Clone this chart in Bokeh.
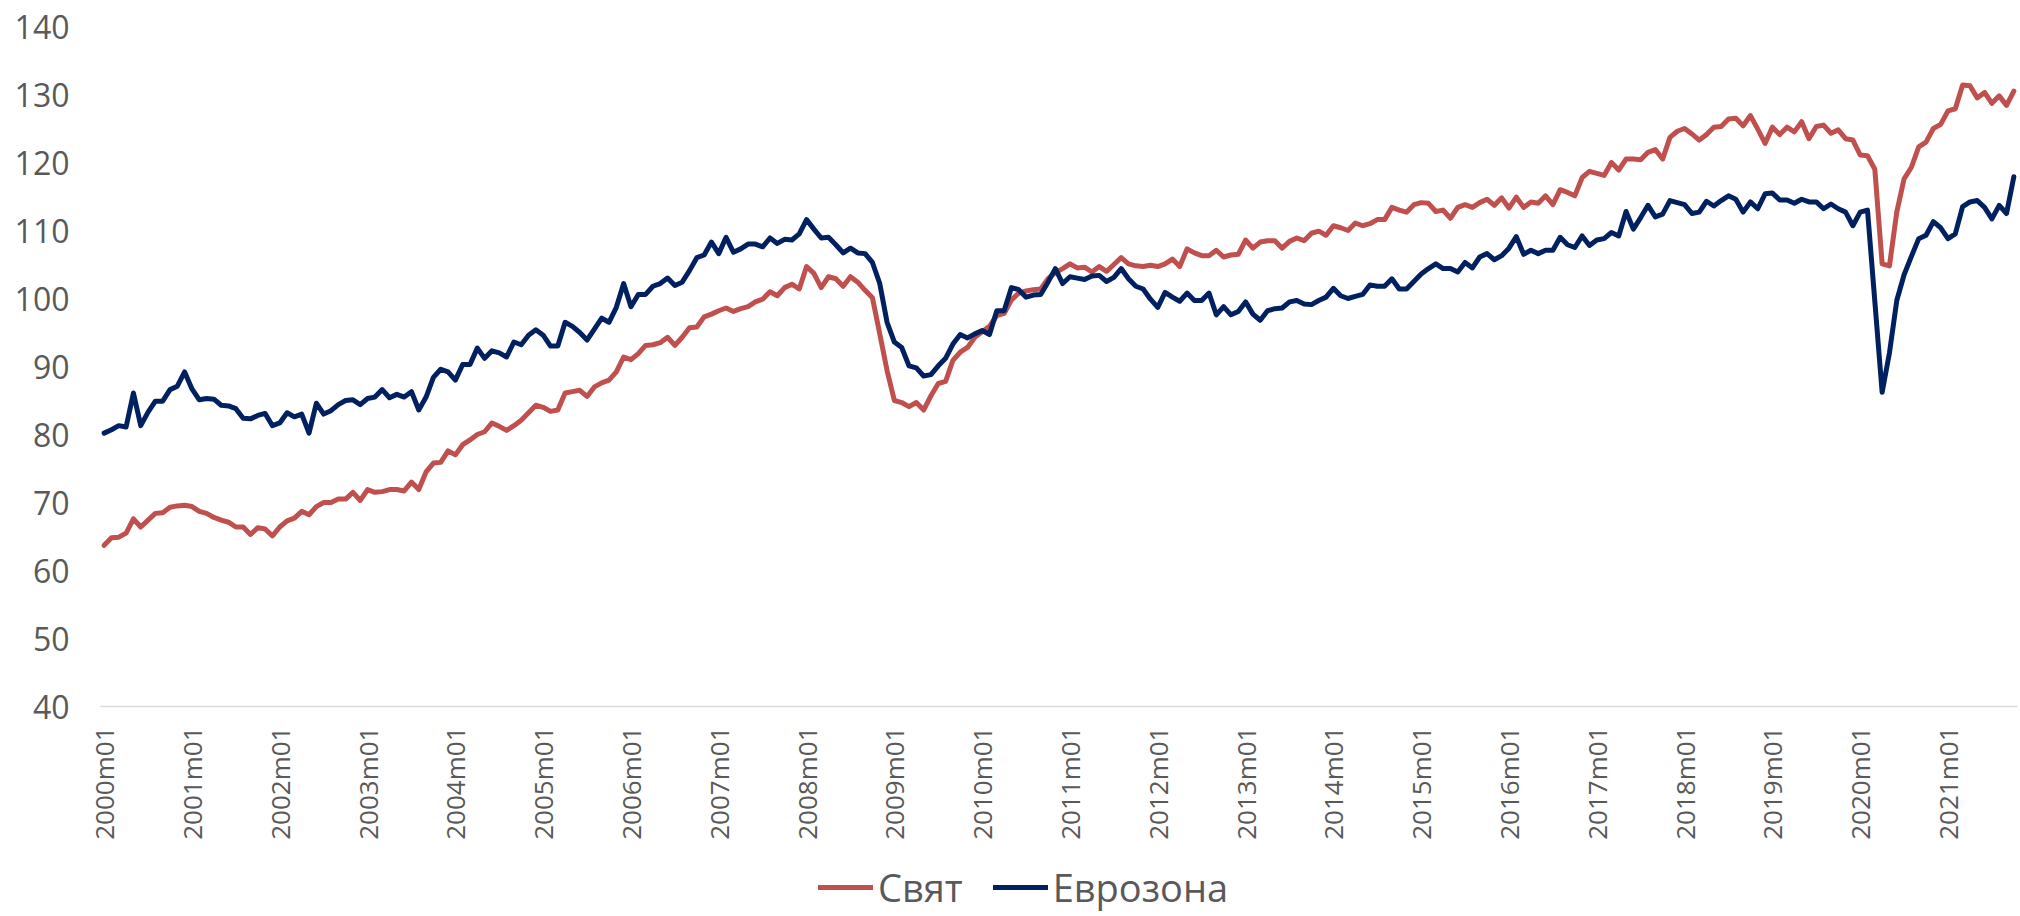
from bokeh.plotting import figure
from bokeh.models import Range1d, FixedTicker, Legend, LegendItem
from bokeh.layouts import column
from bokeh.embed import file_html
from bokeh.resources import INLINE
import math

# ---- data ----
tick_labels = ["2000m01", "2001m01", "2002m01", "2003m01", "2004m01", "2005m01",
               "2006m01", "2007m01", "2008m01", "2009m01", "2010m01", "2011m01",
               "2012m01", "2013m01", "2014m01", "2015m01", "2016m01", "2017m01",
               "2018m01", "2019m01", "2020m01", "2021m01"]

world = [
    63.7, 64.8, 64.9, 65.5, 67.6, 66.4, 67.4, 68.4, 68.5, 69.3, 69.5, 69.6,
    69.4, 68.7, 68.4, 67.8, 67.4, 67.1, 66.4, 66.4, 65.3, 66.3, 66.1, 65.1,
    66.4, 67.3, 67.7, 68.7, 68.2, 69.4, 70.0, 70.0, 70.5, 70.5, 71.5, 70.3,
    71.9, 71.5, 71.6, 71.9, 71.9, 71.7, 73.0, 71.9, 74.5, 75.8, 75.9, 77.6,
    77.0, 78.5, 79.2, 80.0, 80.4, 81.7, 81.2, 80.6, 81.3, 82.1, 83.2, 84.3,
    84.0, 83.4, 83.6, 86.1, 86.3, 86.5, 85.6, 87.0, 87.6, 88.0, 89.2, 91.4,
    91.0, 91.9, 93.1, 93.2, 93.5, 94.3, 93.1, 94.3, 95.7, 95.8, 97.3, 97.7,
    98.2, 98.6, 98.1, 98.5, 98.8, 99.5, 99.9, 101.0, 100.4, 101.6, 102.1, 101.4,
    104.7, 103.7, 101.6, 103.2, 102.9, 101.8, 103.2, 102.4, 101.2, 100.1, 94.8, 89.4,
    85.0, 84.7, 84.1, 84.7, 83.6, 85.7, 87.5, 87.8, 90.9, 92.1, 92.8, 94.3,
    95.1, 95.9, 97.5, 97.8, 99.8, 100.8, 101.1, 101.3, 101.4, 102.9, 103.8, 104.4,
    105.1, 104.5, 104.6, 103.9, 104.7, 104.0, 105.0, 106.0, 105.1, 104.8, 104.7, 104.9,
    104.7, 105.1, 105.8, 104.7, 107.3, 106.7, 106.3, 106.3, 107.1, 106.1, 106.4, 106.5,
    108.6, 107.4, 108.3, 108.5, 108.5, 107.4, 108.4, 108.9, 108.5, 109.6, 109.9, 109.3,
    110.7, 110.4, 110.0, 111.1, 110.7, 111.0, 111.6, 111.6, 113.4, 113.0, 112.7, 113.8,
    114.1, 114.0, 112.8, 113.0, 111.8, 113.4, 113.8, 113.4, 114.1, 114.6, 113.7, 114.8,
    113.3, 114.9, 113.4, 114.2, 114.0, 115.1, 113.8, 116.0, 115.6, 115.1, 117.8, 118.7,
    118.4, 118.1, 120.0, 118.9, 120.5, 120.5, 120.4, 121.5, 121.9, 120.5, 123.7, 124.6,
    125.0, 124.2, 123.3, 124.1, 125.2, 125.3, 126.4, 126.5, 125.4, 126.9, 124.9, 122.8,
    125.2, 124.1, 125.2, 124.5, 126.0, 123.5, 125.3, 125.5, 124.3, 124.8, 123.5, 123.3,
    121.1, 121.0, 119.0, 105.1, 104.8, 112.7, 117.6, 119.3, 122.3, 123.0, 125.0, 125.6,
    127.6, 127.9, 131.4, 131.3, 129.5, 130.3, 128.7, 129.8, 128.4, 130.5,
]

eurozone = [
    80.2, 80.7, 81.3, 81.1, 86.1, 81.3, 83.3, 84.9, 84.9, 86.6, 87.1, 89.2,
    86.7, 85.1, 85.3, 85.2, 84.3, 84.2, 83.8, 82.4, 82.3, 82.8, 83.1, 81.3,
    81.7, 83.2, 82.6, 83.0, 80.2, 84.6, 83.0, 83.5, 84.4, 85.0, 85.1, 84.4,
    85.3, 85.5, 86.6, 85.4, 85.9, 85.5, 86.3, 83.6, 85.5, 88.4, 89.6, 89.2,
    88.0, 90.3, 90.3, 92.7, 91.2, 92.3, 92.0, 91.4, 93.6, 93.2, 94.6, 95.4,
    94.6, 93.0, 93.0, 96.5, 95.9, 95.0, 93.9, 95.5, 97.1, 96.5, 98.7, 102.2,
    98.8, 100.6, 100.6, 101.8, 102.2, 103.0, 101.9, 102.4, 104.1, 106.0, 106.4, 108.3,
    106.6, 109.0, 106.8, 107.3, 108.0, 108.0, 107.6, 108.9, 108.1, 108.7, 108.6, 109.5,
    111.6, 110.2, 108.9, 109.0, 107.9, 106.7, 107.4, 106.7, 106.6, 105.3, 102.2, 96.5,
    93.6, 92.8, 90.1, 89.8, 88.6, 88.8, 90.1, 91.2, 93.3, 94.7, 94.2, 94.8,
    95.3, 94.7, 98.2, 98.2, 101.6, 101.3, 100.2, 100.5, 100.6, 102.4, 104.4, 102.2,
    103.2, 103.0, 102.8, 103.3, 103.4, 102.5, 103.1, 104.4, 102.9, 101.8, 101.4, 99.9,
    98.7, 100.9, 100.2, 99.6, 100.8, 99.7, 99.7, 100.8, 97.6, 98.8, 97.6, 98.1,
    99.5, 97.7, 96.8, 98.2, 98.5, 98.6, 99.5, 99.7, 99.2, 99.1, 99.7, 100.2,
    101.5, 100.4, 100.0, 100.3, 100.6, 102.0, 101.8, 101.8, 102.9, 101.4, 101.4, 102.5,
    103.6, 104.4, 105.1, 104.4, 104.4, 103.9, 105.3, 104.5, 106.1, 106.6, 105.7, 106.3,
    107.4, 109.1, 106.5, 107.1, 106.6, 107.1, 107.1, 109.0, 107.9, 107.5, 109.2, 107.8,
    108.6, 108.8, 109.7, 109.2, 112.8, 110.2, 111.9, 113.7, 112.0, 112.4, 114.4, 114.1,
    113.8, 112.5, 112.7, 114.3, 113.6, 114.4, 115.1, 114.6, 112.7, 114.2, 113.2, 115.4,
    115.5, 114.5, 114.5, 114.0, 114.6, 114.2, 114.2, 113.2, 113.9, 113.2, 112.7, 110.7,
    112.7, 113.0, 99.6, 86.2, 92.0, 99.7, 103.5, 106.2, 108.8, 109.3, 111.3, 110.4,
    108.8, 109.5, 113.5, 114.2, 114.4, 113.4, 111.7, 113.7, 112.5, 117.9,
]

series_names = ["Свят", "Еврозона"]
series_colors = ["#C0504D", "#002060"]

x = list(range(len(world)))
tick_pos = [12 * k for k in range(len(tick_labels))]

FONT = "Open Sans"
GREY = "#595959"
LW = 5

p = figure(width=2019, height=850, output_backend="svg", toolbar_location=None,
           x_range=Range1d(-0.5, len(world) - 0.5), y_range=Range1d(40, 140),
           min_border_left=100, min_border_right=2, min_border_top=26,
           min_border_bottom=144)
p.outline_line_color = None
p.background_fill_color = "white"
p.border_fill_color = "white"
p.xgrid.grid_line_color = None
p.ygrid.grid_line_color = None

p.line(x, world, line_color=series_colors[0], line_width=LW,
       line_join="round", line_cap="round")
p.line(x, eurozone, line_color=series_colors[1], line_width=LW,
       line_join="round", line_cap="round")

# x axis
xa = p.xaxis[0]
xa.ticker = FixedTicker(ticks=tick_pos)
xa.major_label_overrides = {tp: lab for tp, lab in zip(tick_pos, tick_labels)}
xa.major_label_orientation = math.pi / 2
xa.major_label_text_font = FONT
xa.major_label_text_font_size = "26px"
xa.major_label_text_color = GREY
xa.major_tick_line_color = None
xa.minor_tick_line_color = None
xa.major_tick_out = 0
xa.major_tick_in = 0
xa.major_label_standoff = 20
xa.axis_line_color = "#D9D9D9"
xa.axis_line_width = 1.6

# y axis
ya = p.yaxis[0]
ya.ticker = FixedTicker(ticks=list(range(40, 141, 10)))
ya.major_label_text_font = FONT
ya.major_label_text_font_size = "32px"
ya.major_label_text_color = GREY
ya.major_tick_line_color = None
ya.minor_tick_line_color = None
ya.major_tick_out = 0
ya.major_tick_in = 0
ya.axis_line_color = None
ya.major_label_standoff = 31

# legend strip below the chart (its frame is aligned with the chart frame)
nan = float("nan")
pl = figure(width=2019, height=66, output_backend="svg", toolbar_location=None,
            x_range=Range1d(0, 1), y_range=Range1d(0, 1),
            min_border_left=0, min_border_right=0, min_border_top=0,
            min_border_bottom=0)
pl.axis.visible = False
pl.grid.visible = False
pl.outline_line_color = None
l1 = pl.line([nan, nan], [nan, nan], line_color=series_colors[0], line_width=LW,
             line_cap="round")
l2 = pl.line([nan, nan], [nan, nan], line_color=series_colors[1], line_width=LW,
             line_cap="round")
legend = Legend(items=[LegendItem(label=series_names[0], renderers=[l1]),
                       LegendItem(label=series_names[1], renderers=[l2])],
                orientation="horizontal", location=(718, 3),
                glyph_width=55, glyph_height=20, label_standoff=5, spacing=30,
                padding=0, margin=0, border_line_color=None,
                background_fill_alpha=0,
                label_text_font=FONT, label_text_font_size="38px",
                label_text_color=GREY)
pl.add_layout(legend, "center")

layout = column(p, pl, spacing=0)
open("out.html", "w").write(file_html(layout, INLINE))
